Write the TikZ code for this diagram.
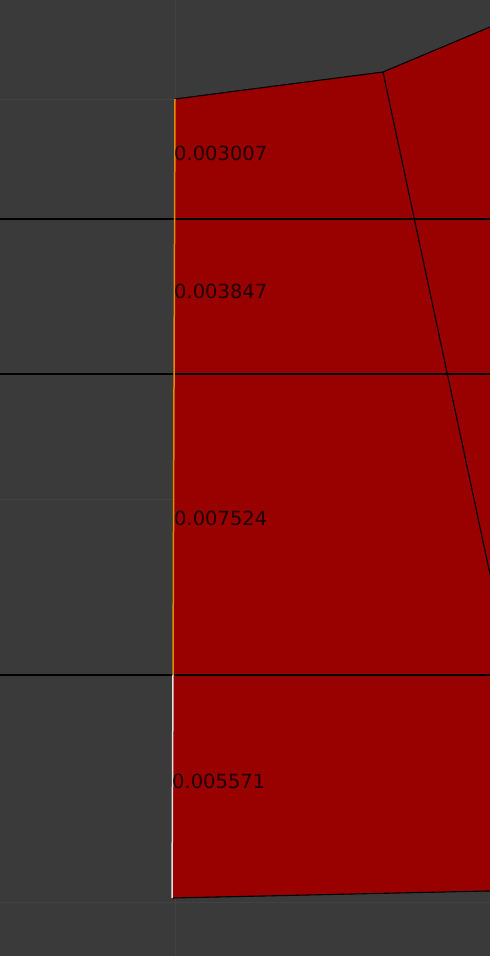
\documentclass[tikz,border=0pt]{standalone}
\usepackage{fontspec}
\setmainfont{DejaVu Sans}
\usetikzlibrary{positioning}
\definecolor{viewgray}{RGB}{58,58,58}
\definecolor{gridgray}{RGB}{66,66,66}
\definecolor{facered}{RGB}{153,0,0}
\definecolor{seamorange}{RGB}{226,140,0}
\definecolor{seamwhite}{RGB}{225,225,225}
\definecolor{labeldark}{RGB}{30,0,0}
\begin{document}
\begin{tikzpicture}[x=1pt, y=-1pt,
    edgeline/.style={black, line width=1.1pt},
    gridline/.style={gridgray, line width=1pt},
    valuelabel/.style={anchor=west, inner sep=0pt, text=labeldark,
      font=\fontsize{19.5}{20}\selectfont}]
  \useasboundingbox (0,0) rectangle (490,956);
  \clip (0,0) rectangle (490,956);
  \fill[viewgray] (0,0) rectangle (490,956);
  % faint viewport grid
  \draw[gridline] (175,0) -- (175,956);
  \foreach \gy in {99,499,902}
    \draw[gridline] (0,\gy) -- (490,\gy);
  % the red face
  \coordinate (tl) at (175,99);
  \coordinate (tm) at (383,72);
  \coordinate (tr) at (510,18.6);
  \coordinate (br) at (510,890.5);
  \coordinate (bl) at (172,898);
  \coordinate (ml) at (173,675);
  \fill[facered] (tl) -- (tm) -- (tr) -- (br) -- (bl) -- (ml) -- cycle;
  \draw[edgeline] (tl) -- (tm) -- (tr);
  \draw[edgeline] (bl) -- (br);
  \draw[edgeline] (tm) -- (510,668);
  % cut lines
  \foreach \cy in {219,374,675}
    \draw[edgeline] (0,\cy) -- (490,\cy);
  % seams on the left edge
  \draw[seamorange, line width=1.5pt] (tl) -- (ml);
  \draw[seamwhite, line width=1.5pt] (ml) -- (bl);
  % values
  \node[valuelabel] (v1) at (174,153) {0.003007};
  \node[valuelabel] (v2) at (174,291) {0.003847};
  \node[valuelabel] (v3) at (174,518) {0.007524};
  \node[valuelabel] (v4) at (172,781) {0.005571};
\end{tikzpicture}
\end{document}
